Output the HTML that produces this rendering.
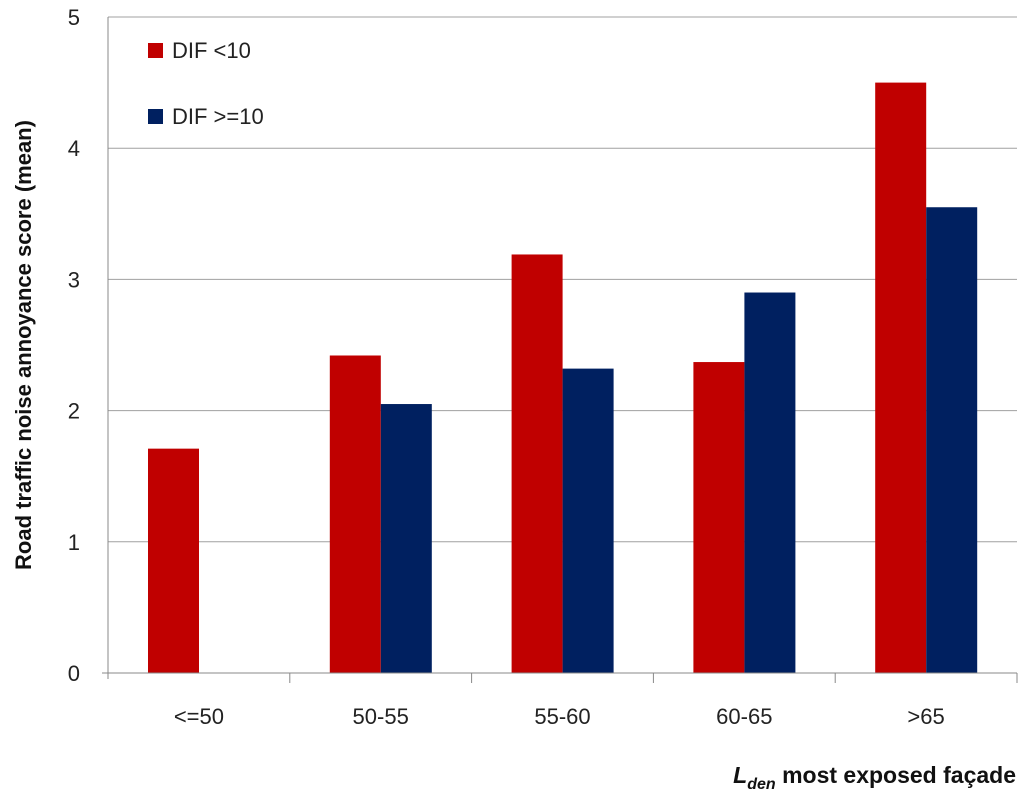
<!DOCTYPE html>
<html><head><meta charset="utf-8"><style>
body{margin:0;background:#fff;}
svg text{font-family:"Liberation Sans",sans-serif;}
</style></head><body>
<svg id="chart" width="1024" height="799" xmlns="http://www.w3.org/2000/svg">
<g id="grid"></g>
<g id="bars"></g>
<g id="axes"></g>
<text transform="translate(31,345) rotate(-90)" text-anchor="middle" font-size="22" font-weight="bold" fill="#111">Road traffic noise annoyance score (mean)</text>
<text x="1016" y="783" text-anchor="end" font-size="23" font-weight="bold" fill="#111"><tspan font-style="italic">L</tspan><tspan font-style="italic" font-size="16" dy="6">den</tspan><tspan dy="-6"> most exposed façade</tspan></text>
<g>
<rect x="148" y="43" width="15" height="15" fill="#c00000"/>
<text x="172" y="58" font-size="22" fill="#222">DIF &lt;10</text>
<rect x="148" y="109" width="15" height="15" fill="#002060"/>
<text x="172" y="124" font-size="22" fill="#222">DIF &gt;=10</text>
</g>
</svg>
<script>
const categories=["<=50","50-55","55-60","60-65",">65"];
const difLt10=[1.71,2.42,3.19,2.37,4.50];
const difGe10=[0,2.05,2.32,2.90,3.55];
const yTicks=[0,1,2,3,4,5];
const NS="http://www.w3.org/2000/svg";
const x0=108,x1=1017,yTop=17,yBot=673,yMax=5;
const cw=(x1-x0)/categories.length, bw=51, pad=40;
const y=v=>yBot-(v/yMax)*(yBot-yTop);
function mk(tag,attrs,parent){const e=document.createElementNS(NS,tag);for(const k in attrs)e.setAttribute(k,attrs[k]);parent.appendChild(e);return e;}
const grid=document.getElementById('grid'),bars=document.getElementById('bars'),axes=document.getElementById('axes');
yTicks.forEach(t=>{
 if(t>0){const l=mk('line',{x1:x0,x2:x1,y1:y(t),y2:y(t),stroke:'#a0a0a0','stroke-width':1},grid);
 
 }
 const tx=mk('text',{x:80,y:y(t)+8,'text-anchor':'end','font-size':22,fill:'#222'},axes);
 tx.textContent=t;
 
 
});
const ya=mk('line',{x1:x0,x2:x0,y1:yTop,y2:yBot+6,stroke:'#888','stroke-width':1},axes);


const xa=mk('line',{x1:x0-6,x2:x1,y1:yBot,y2:yBot,stroke:'#888','stroke-width':1},axes);


categories.forEach((c,i)=>{
 const cx=x0+i*cw;
 const tk=mk('line',{x1:cx+cw,x2:cx+cw,y1:yBot,y2:yBot+10,stroke:'#888'},axes);
 
 
 const lb=mk('text',{x:cx+cw/2,y:yBot+51,'text-anchor':'middle','font-size':22,fill:'#222'},axes);
 lb.textContent=c;
 
 
 const r=mk('rect',{x:cx+pad,y:y(difLt10[i]),width:bw,height:yBot-y(difLt10[i]),fill:'#c00000'},bars);
 
 
 if(difGe10[i]>0){const b=mk('rect',{x:cx+pad+bw,y:y(difGe10[i]),width:bw,height:yBot-y(difGe10[i]),fill:'#002060'},bars);
 
 }
});
</script>
</body></html>
